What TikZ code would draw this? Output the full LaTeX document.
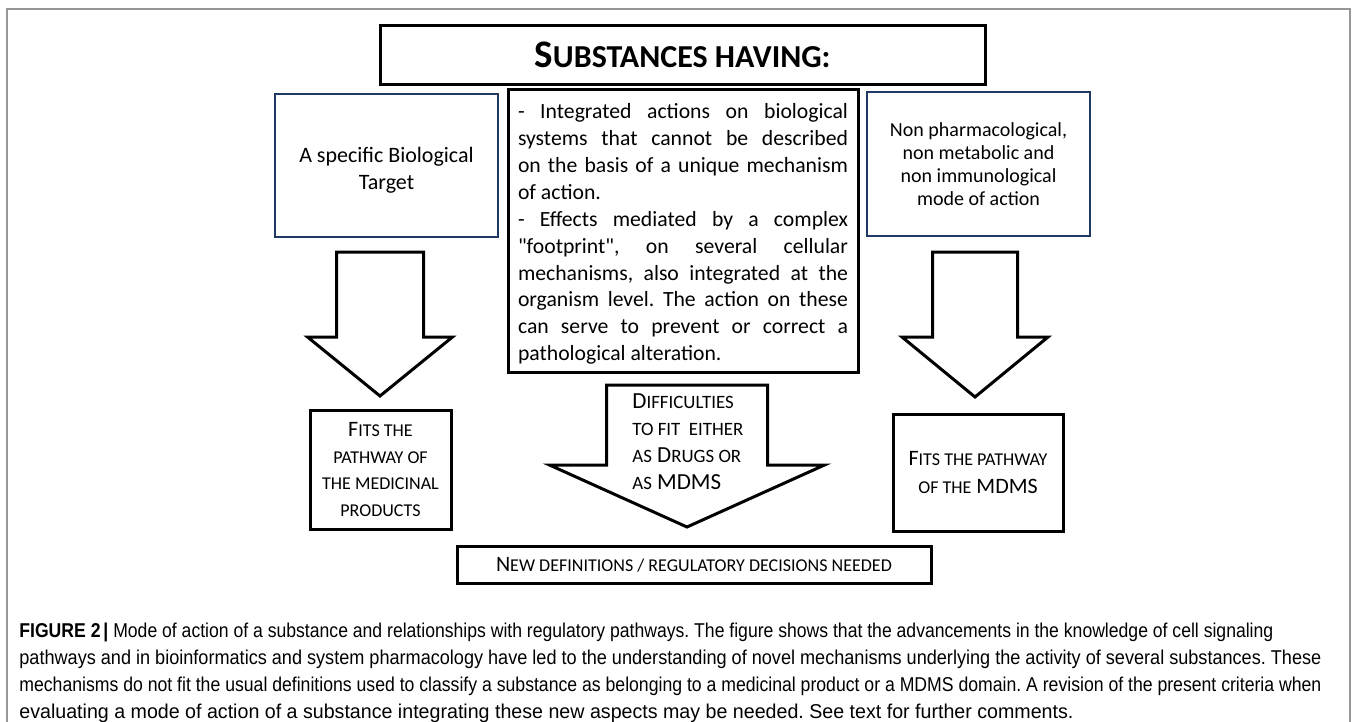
\documentclass[tikz,border=0pt]{standalone}
\usepackage{fontspec}
\setmainfont{Carlito}[Ligatures=TeXOff]
\newfontfamily\capfont{Liberation Sans}
\usepackage{graphicx}
\definecolor{boxnavy}{RGB}{32,56,100}
\definecolor{framegray}{RGB}{150,150,150}
\newcommand\smc[1]{\scalebox{0.82}{\MakeUppercase{#1}}}
\newcommand\jline[1]{\makebox[165pt][s]{#1}}
\newcommand\capline[2]{\resizebox{#1}{\height}{#2}}
\frenchspacing
\tikzset{
  thickbox/.style={draw, line width=1.5pt, inner sep=0pt},
  thinbox/.style={draw=boxnavy, line width=0.8pt, inner sep=0pt},
  blockarrow/.style={draw, line width=1.5pt, fill=white},
  body/.style={font=\fontsize{11}{13.25}\selectfont, align=center, inner sep=0pt},
}
\begin{document}
\begin{tikzpicture}[x=0.5pt,y=-0.5pt]
      \useasboundingbox (0,0) rectangle (1355,722);
      \draw[framegray, line width=0.6pt] (7,722) -- (7,9) -- (1350,9) -- (1350,722);
      % boxes
      \node[thickbox, minimum width=302.5pt, minimum height=29.5pt,
        font=\bfseries\fontsize{19.5}{24}\selectfont] (title) at (682.5,55) {S\smc{ubstances having:}};
      \node[thinbox, minimum width=111.5pt, minimum height=71.5pt] (target) at (386.5,165.5) {};
      \node[body] (targettext) at ([yshift=-2.5pt]target.center) {A specific Biological\\Target};
      \node[thickbox, minimum width=175pt, minimum height=141pt] (mech) at (683,231) {};
      \node[align=left, inner sep=0pt, font=\fontsize{10.85}{13.45}\selectfont] (mechtext)
        at ([yshift=-1.5pt]mech.center) {%
        \jline{- Integrated actions on biological}\\
        \jline{systems that cannot be described}\\
        \jline{on the basis of a unique mechanism}\\
        of action.\\
        \jline{- Effects mediated by a complex}\\
        \jline{"footprint", on several cellular}\\
        \jline{mechanisms, also integrated at the}\\
        \jline{organism level. The action on these}\\
        \jline{can serve to prevent or correct a}\\
        pathological alteration.};
      \node[thinbox, minimum width=111.5pt, minimum height=72pt, align=center,
        font=\fontsize{10}{11.5}\selectfont] (nonpharm) at (978.5,164)
        {Non pharmacological,\\non metabolic and\\non immunological\\mode of action};
      \node[thickbox, minimum width=70.5pt, minimum height=59.5pt, body] (fitsmed) at (380.5,469.5)
        {F\smc{its the}\\\smc{pathway of}\\\smc{the medicinal}\\\smc{products}};
      \node[thickbox, minimum width=85pt, minimum height=58.5pt, body,
        font=\fontsize{11}{14}\selectfont] (fitsmdms) at (978,472.5)
        {F\smc{its the pathway}\\\smc{of the} MDMS};
      % block arrows
      \draw[blockarrow] (336.5,252) -- (423.5,252) -- (423.5,337) -- (452.5,337) -- (380,396)
        -- (307.5,337) -- (336.5,337) -- cycle;
      \draw[blockarrow] (932.5,252) -- (1017.5,252) -- (1017.5,337) -- (1048,337) -- (975,397)
        -- (902,337) -- (932.5,337) -- cycle;
      \draw[blockarrow] (606.5,385) -- (767.5,385) -- (767.5,465) -- (824.5,465) -- (687,527)
        -- (549.5,465) -- (606.5,465) -- cycle;
      \node[body, align=left, anchor=west, font=\fontsize{11.5}{13.5}\selectfont] (difficult) at (632,442)
        {D\smc{ifficulties}\\\smc{to fit\ \ either}\\\smc{as} D\smc{rugs or}\\\smc{as} MDMS};
      \node[thickbox, minimum width=237pt, minimum height=18.5pt, body] (needed) at (694,564.5)
        {N\smc{ew definitions / regulatory decisions needed}};
      % caption
      \node[anchor=north west, align=left, inner sep=0pt,
        font=\capfont\fontsize{10}{13.4}\selectfont] (caption) at (19,623) {%
        \capline{627pt}{\textbf{FIGURE 2\,|} Mode of action of a substance and relationships with regulatory pathways. The figure shows that the advancements in the knowledge of cell signaling}\\
        \capline{651pt}{pathways and in bioinformatics and system pharmacology have led to the understanding of novel mechanisms underlying the activity of several substances. These}\\
        \capline{651pt}{mechanisms do not fit the usual definitions used to classify a substance as belonging to a medicinal product or a MDMS domain. A revision of the present criteria when}\\
        \capline{527pt}{evaluating a mode of action of a substance integrating these new aspects may be needed. See text for further comments.}};
    \end{tikzpicture}
\end{document}
